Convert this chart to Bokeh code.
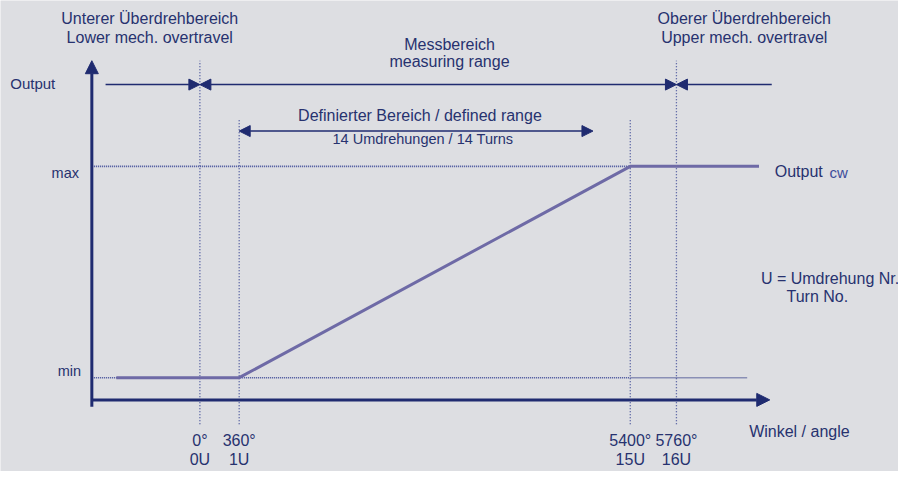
from bokeh.plotting import figure
from bokeh.models import Range1d, ColumnDataSource, Arrow, NormalHead, LinearInterpolator, Label
from bokeh.transform import transform
from bokeh.core.properties import value, field
from bokeh.embed import file_html
from bokeh.resources import INLINE

# ---- data ----
out_deg = [-1010, 360, 5400, 6758]          # angle (deg) of output curve corners
out_val = [0, 0, 1, 1]                       # normalised output (min=0, max=1)
tick_deg = [0, 360, 5400, 5760]
tick_deg_labels = ["0°", "360°", "5400°", "5760°"]
tick_turn_labels = ["0U", "1U", "15U", "16U"]
marker_top = [1.5, 1.222, 1.222, 1.5]

# ---- style ----
BG = "#dddee2"
NAVY = "#1f2b70"
TXT = "#27326f"
DOT = "#3f4b98"
CURVE = "#6e6aa6"
FONT = "Liberation Sans"

# schematic (not to scale) angle axis
interp = LinearInterpolator(x=[-4000, 0, 360, 5400, 5760, 10000],
                            y=[-4000, 0, 475, 5202, 5760, 10000], clip=False)

p = figure(width=898, height=471, x_range=Range1d(-2410, 8444), y_range=Range1d(-0.4439, 1.7849),
           x_axis_type=None, y_axis_type=None, toolbar_location=None, output_backend="svg",
           min_border=0, background_fill_color=BG, border_fill_color=BG, outline_line_color=None)
p.grid.visible = False

YAX = -1306   # display x of the output axis
XAX = -0.105  # value of the angle axis

# reference lines min / max
p.segment(x0=[YAX, YAX], x1=[5202, 5202], y0=[0, 1], y1=[0, 1], line_color=DOT,
          line_width=1.6, line_dash="1 1")
p.segment(x0=[5202], x1=[6615], y0=[0], y1=[0], line_color="#8a8fb5", line_width=1.5)

# vertical marker lines
msrc = ColumnDataSource(dict(x=tick_deg, top=marker_top, d=tick_deg_labels, u=tick_turn_labels))
p.segment(x0=transform("x", interp), x1=transform("x", interp), y0=-0.22, y1="top",
          source=msrc, line_color=DOT, line_width=1.3, line_dash="1 2")

# output curve
osrc = ColumnDataSource(dict(x=out_deg, y=out_val))
p.line(x=transform("x", interp), y="y", source=osrc, line_color=CURVE, line_width=3)

# axes arrows
p.add_layout(Arrow(x_start=YAX, y_start=-0.137, x_end=YAX, y_end=1.5, line_color=NAVY, line_width=3,
                   end=NormalHead(size=13, fill_color=NAVY, line_color=NAVY)))
p.add_layout(Arrow(x_start=YAX, y_start=XAX, x_end=6888, y_end=XAX, line_color=NAVY, line_width=3,
                   end=NormalHead(size=13, fill_color=NAVY, line_color=NAVY)))

# range arrows
def head():
    return NormalHead(size=11, fill_color=NAVY, line_color=NAVY)

ya = 1.387
asrc = ColumnDataSource(dict(a=[-1140, 6912], b=[tick_deg[0], tick_deg[3]]))
p.add_layout(Arrow(source=asrc, x_start=transform("a", interp), x_end=transform("b", interp),
                   y_start=ya, y_end=ya, line_color=NAVY, line_width=1.5, end=head()))
msr = ColumnDataSource(dict(a=[tick_deg[0]], b=[tick_deg[3]]))
p.add_layout(Arrow(source=msr, x_start=transform("a", interp), x_end=transform("b", interp),
                   y_start=ya, y_end=ya, line_color=NAVY, line_width=1.5, start=head(), end=head()))
dsr = ColumnDataSource(dict(a=[tick_deg[1]], b=[4751]))
p.add_layout(Arrow(source=dsr, x_start=transform("a", interp), x_end=field("b"),
                   y_start=1.167, y_end=1.167, line_color=NAVY, line_width=1.5, start=head(), end=head()))

# tick labels
p.text(x=transform("x", interp), y=-0.297, text="d", source=msrc, text_align="center",
       text_baseline="middle", text_font=value(FONT), text_font_size="16px", text_color=TXT)
p.text(x=transform("x", interp), y=-0.389, text="u", source=msrc, text_align="center",
       text_baseline="middle", text_font=value(FONT), text_font_size="16px", text_color=TXT)

def lab(x, y, t, align="center", size="16px", color=TXT):
    p.add_layout(Label(x=x, y=y, text=t, text_align=align, text_baseline="middle",
                       text_font=FONT, text_font_size=size, text_color=color))

lab(-606, 1.698, "Unterer Überdrehbereich")
lab(-606, 1.611, "Lower mech. overtravel")
lab(3017, 1.579, "Messbereich")
lab(3017, 1.497, "measuring range")
lab(6580, 1.698, "Oberer Überdrehbereich")
lab(6580, 1.611, "Upper mech. overtravel")
lab(2660, 1.240, "Definierter Bereich / defined range")
lab(2696, 1.130, "14 Umdrehungen / 14 Turns", size="14.5px")
lab(-2292, 1.391, "Output", align="left", size="15px")
lab(-1461, 0.970, "max", align="right", size="14.5px")
lab(-1437, 0.032, "min", align="right", size="14.5px")
lab(6948, 0.975, "Output", align="left")
lab(7610, 0.972, "cw", align="left", size="15px", color="#3e4c9a")
lab(6781, 0.4714, "U = Umdrehung  Nr.", align="left")
lab(7090, 0.3845, "Turn No.", align="left")
lab(6639, -0.2563, "Winkel / angle", align="left")

open("out.html", "w").write(file_html(p, INLINE))
